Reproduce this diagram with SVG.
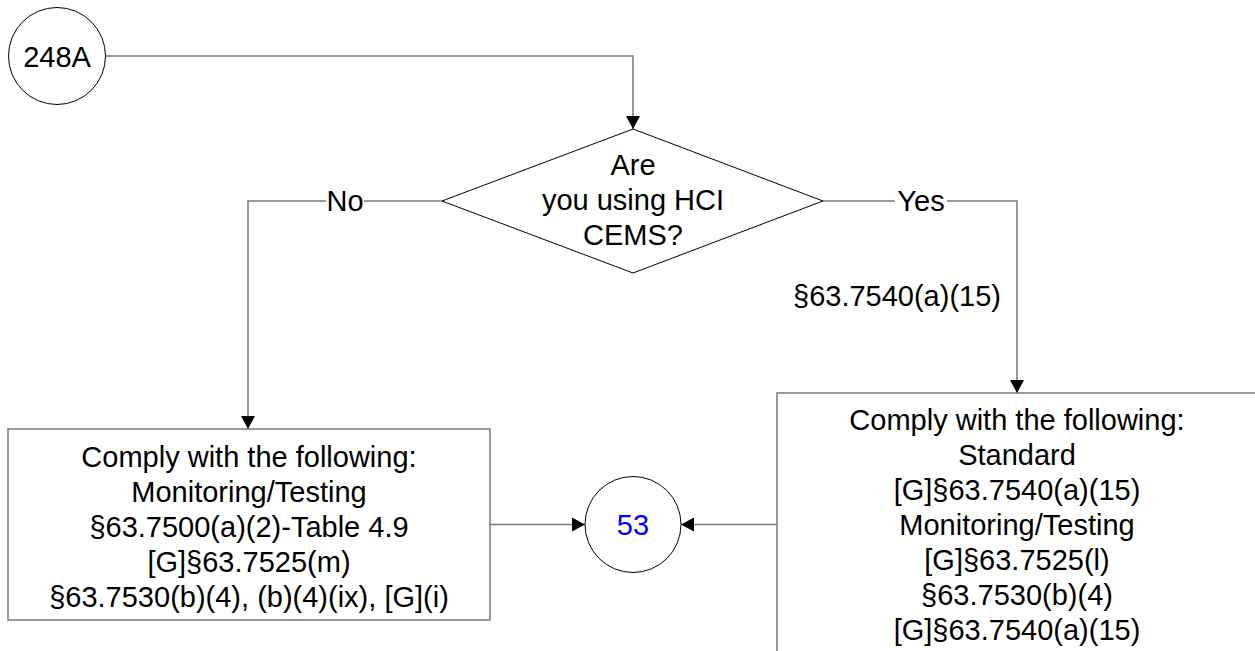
<svg xmlns="http://www.w3.org/2000/svg" width="1255" height="651" viewBox="0 0 1255 651">
<style>
  text { font-family: "Liberation Sans", Arial, sans-serif; font-size: 29px; fill: #000; text-anchor: middle; }
  .conn { fill: none; stroke: #7a7a7a; stroke-width: 1.5; }
  .shape { fill: #fff; stroke: #000; stroke-width: 1; }
  .box { fill: #fff; stroke: #7a7a7a; stroke-width: 1.5; }
  .blue { fill: #0000ff; }
</style>
<defs>
  <marker id="arrow" markerUnits="userSpaceOnUse" markerWidth="14" markerHeight="14" viewBox="0 0 14 14" refX="13" refY="7" orient="auto">
    <path d="M0,0 L13,7 L0,14 Z" fill="#000"/>
  </marker>
</defs>

<g id="connectors">
  <polyline class="conn" points="105.5,56 633,56 633,129" marker-end="url(#arrow)"/>
  <polyline class="conn" points="442,201 248,201 248,429" marker-end="url(#arrow)"/>
  <polyline class="conn" points="823,201 1017,201 1017,393" marker-end="url(#arrow)"/>
  <line class="conn" x1="490" y1="524.5" x2="585" y2="524.5" marker-end="url(#arrow)"/>
  <line class="conn" x1="777" y1="524.5" x2="681" y2="524.5" marker-end="url(#arrow)"/>
  <rect x="326" y="189" width="38" height="24" fill="#fff"/>
  <text x="345" y="211">No</text>
  <rect x="895" y="189" width="52" height="24" fill="#fff"/>
  <text x="921" y="211">Yes</text>
  <text x="897" y="306">§63.7540(a)(15)</text>
</g>

<g id="node-248A">
  <circle class="shape" cx="57" cy="56" r="48.5"/>
  <text x="57" y="66.5">248A</text>
</g>

<g id="node-decision">
  <polygon class="shape" points="633,129 823,201 633,273 442,201"/>
  <text x="633" y="175">Are</text>
  <text x="633" y="210">you using HCI</text>
  <text x="633" y="245">CEMS?</text>
</g>

<g id="node-no-box">
  <rect class="box" x="8" y="429" width="482" height="191"/>
  <text x="249" y="467">Comply with the following:</text>
  <text x="249" y="502">Monitoring/Testing</text>
  <text x="249" y="537">§63.7500(a)(2)-Table 4.9</text>
  <text x="249" y="572">[G]§63.7525(m)</text>
  <text x="249" y="607">§63.7530(b)(4), (b)(4)(ix), [G](i)</text>
</g>

<g id="node-yes-box">
  <rect class="box" x="777" y="393" width="490" height="280"/>
  <text x="1017" y="430">Comply with the following:</text>
  <text x="1017" y="465">Standard</text>
  <text x="1017" y="500">[G]§63.7540(a)(15)</text>
  <text x="1017" y="535">Monitoring/Testing</text>
  <text x="1017" y="570">[G]§63.7525(l)</text>
  <text x="1017" y="605">§63.7530(b)(4)</text>
  <text x="1017" y="640">[G]§63.7540(a)(15)</text>
</g>

<g id="node-53">
  <circle class="shape" cx="633" cy="524.5" r="48"/>
  <text class="blue" x="633" y="535">53</text>
</g>
</svg>
